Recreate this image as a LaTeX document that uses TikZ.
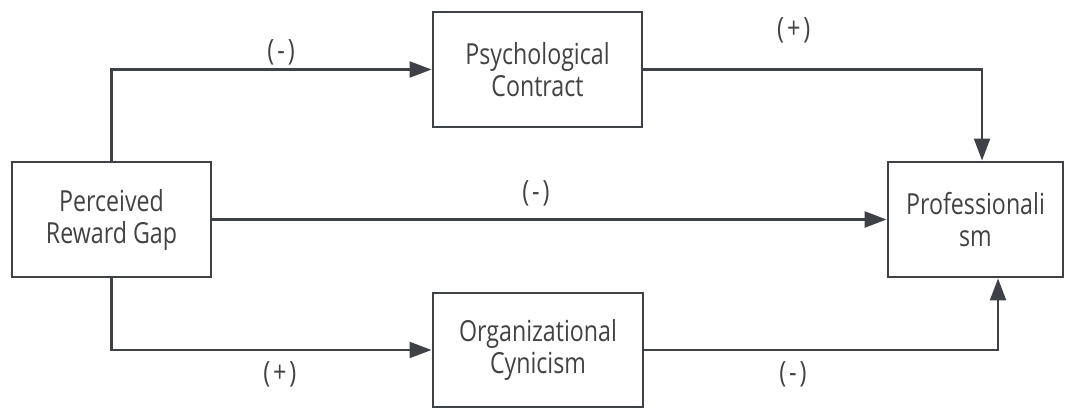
\documentclass[tikz,border=0pt]{standalone}
\usepackage{fontspec}
\setmainfont{Open Sans}[FakeStretch=0.8]
\newfontfamily\signfont{Open Sans}[FakeStretch=0.8,LetterSpace=10]
\usetikzlibrary{arrows.meta}
\definecolor{linegray}{RGB}{62,66,70}
\definecolor{textgray}{RGB}{66,66,66}

\begin{document}
\begin{tikzpicture}[x=0.75pt,y=-0.75pt,
  box/.style={draw=linegray,line width=2.2pt,text=textgray,align=center,inner sep=0pt,
    font=\fontsize{21.75}{24}\selectfont},
  conn/.style={draw=linegray,line width=1.8pt,-{Triangle[length=16.5pt,width=12pt]}},
  sign/.style={text=textgray,inner sep=0pt,font=\signfont\fontsize{22}{24}\selectfont}]
\useasboundingbox (0,0) rectangle (1065,410);
\node[box,minimum width=149.25pt,minimum height=86.25pt] (gap) at (111.5,219.5) {Perceived\\Reward Gap};
\node[box,minimum width=156.75pt,minimum height=86.25pt] (contract) at (537.5,69.5) {Psychological\\Contract};
\node[box,minimum width=157.5pt,minimum height=85.5pt] (cynic) at (538,350) {Organizational\\Cynicism};
\node[box,minimum width=131.25pt,minimum height=86.25pt] (prof) at (975.5,219.5) {Professionali\\sm};
\draw[conn] (gap.north) |- (contract.west) node[sign,pos=0.765,above=2.5pt] {(-)};
\draw[conn] (contract.east) -| ([xshift=4.9pt]prof.north) node[sign,pos=0.222,above=19pt] {(+)};
\draw[conn] (gap.east) -- (prof.west) node[sign,pos=0.48,above=9pt] {(-)};
\draw[conn] (gap.south) |- (cynic.west) node[sign,pos=0.763,below=8pt] {(+)};
\draw[conn] (cynic.east) -| ([xshift=16.9pt]prof.south) node[sign,pos=0.21,below=7.75pt] {(-)};
\end{tikzpicture}
\end{document}
